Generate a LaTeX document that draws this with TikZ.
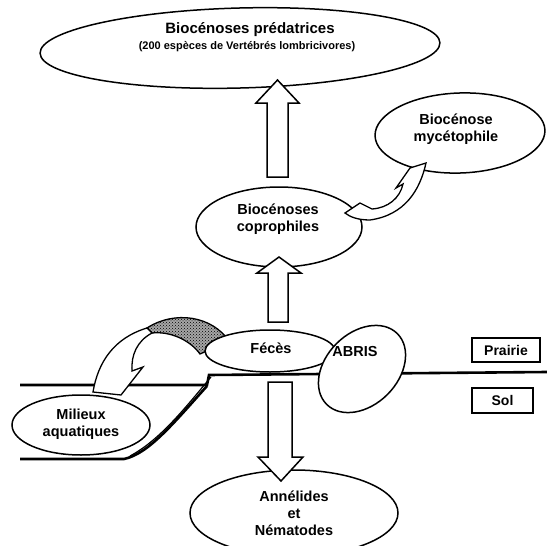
\documentclass[tikz,border=0pt]{standalone}
\usepackage{fontspec}
\setmainfont{Liberation Sans}
\usetikzlibrary{shapes.geometric,patterns}
\begin{document}
\begin{tikzpicture}[x=1pt,y=-1pt,
  ell/.style={ellipse, draw, line width=1.5pt, inner sep=0pt, fill=white},
  lab/.style={font=\bfseries\fontsize{14.5}{17}\selectfont, align=center, inner sep=0pt},
  blk/.style={draw, fill=white, line width=1.5pt, line join=miter},
  ground/.style={line width=2.6pt},
  tag/.style={draw, line width=1.2pt, inner sep=0pt, minimum width=68pt, minimum height=24pt, font=\bfseries\fontsize{14}{17}\selectfont}]
\useasboundingbox (0,0) rectangle (547,546);

% ground / water basin
\draw[ground] (20,385) -- (207,385) -- (209,375) -- (547,372);
\draw[ground] (20,459) -- (124,459) .. controls (148,454) and (172,425) .. (207,386);
\draw[line width=1.2pt] (130,456) .. controls (160,440) and (185,408) .. (211,377);

% milieux aquatiques
\node[ell, minimum width=138pt, minimum height=60pt] (aqua) at (81,425) {};
\node[lab] (aquat) at (81,424) {Milieux\\aquatiques};

% stippled band and curved arrow towards the aquatic environment
\path[fill=black!35] (147,328) .. controls (175,310) and (212,316) .. (229,341) -- (200,354) .. controls (190,340) and (170,331) .. (152,333) -- cycle;
\draw[line width=1.3pt, pattern=crosshatch dots] (147,328) .. controls (175,310) and (212,316) .. (229,341) -- (200,354) .. controls (190,340) and (170,331) .. (152,333) -- cycle;
\draw[blk, line width=1.3pt] (147,328) .. controls (114,338) and (98,362) .. (93,392) -- (121,395) -- (143,367) -- (132,371) .. controls (131,355) and (137,341) .. (152,333) -- cycle;

% feces and shelter
\node[ell, minimum width=130pt, minimum height=42pt] (feces) at (270,351) {};
\node[lab] (fecest) at (271,348) {Fécès};
\node[ell, minimum width=100pt, minimum height=72pt, rotate=45] (abris) at (362,369) {};
\node[lab] (abrist) at (355,352) {ABRIS};

% other ellipses
\node[ell, minimum width=400pt, minimum height=80pt, rotate=1.5] (pred) at (240,48) {};
\node[lab, font=\bfseries\fontsize{15}{17}\selectfont] (predt) at (250,30) {Biocénoses prédatrices};
\node[lab, font=\bfseries\fontsize{11}{13}\selectfont] (predt2) at (247,47) {(200 espèces de Vertébrés lombricivores)};

\node[ell, minimum width=166pt, minimum height=80pt] (copro) at (279,227) {};
\node[lab] (coprot) at (278,219) {Biocénoses\\coprophiles};

\node[ell, minimum width=170pt, minimum height=80pt, rotate=2] (myce) at (460,133) {};
\node[lab] (mycet) at (456,129) {Biocénose\\mycétophile};

\node[ell, minimum width=208pt, minimum height=86pt] (anne) at (294,513) {};
\node[lab] (annet) at (294,513) {Annélides\\et\\Nématodes};

% block arrows
\draw[blk] (267,177) -- (267,103) -- (256,103) -- (277.5,80) -- (299,103) -- (288,103) -- (288,177) -- cycle;
\draw[blk] (268,322) -- (268,273) -- (257,273) -- (279,257) -- (301,273) -- (288,273) -- (288,322) -- cycle;
\draw[blk] (268,382) -- (268,457) -- (258,457) -- (281,481) -- (303,457) -- (292,457) -- (292,382) -- cycle;

% small curved arrow towards mycetophile
\draw[blk, line width=1.3pt] (345,213) -- (360,203) -- (372,209) .. controls (388,208) and (400,198) .. (403,184) -- (396,188) -- (410,168) -- (426,163) .. controls (420,190) and (405,215) .. (370,220) .. controls (358,220) and (350,217) .. (345,213) -- cycle;

% labels
\node[tag] (prairie) at (506,350) {Prairie};
\node[tag, minimum width=61pt, minimum height=25pt] (sol) at (502.5,400.5) {Sol};
\end{tikzpicture}
\end{document}
